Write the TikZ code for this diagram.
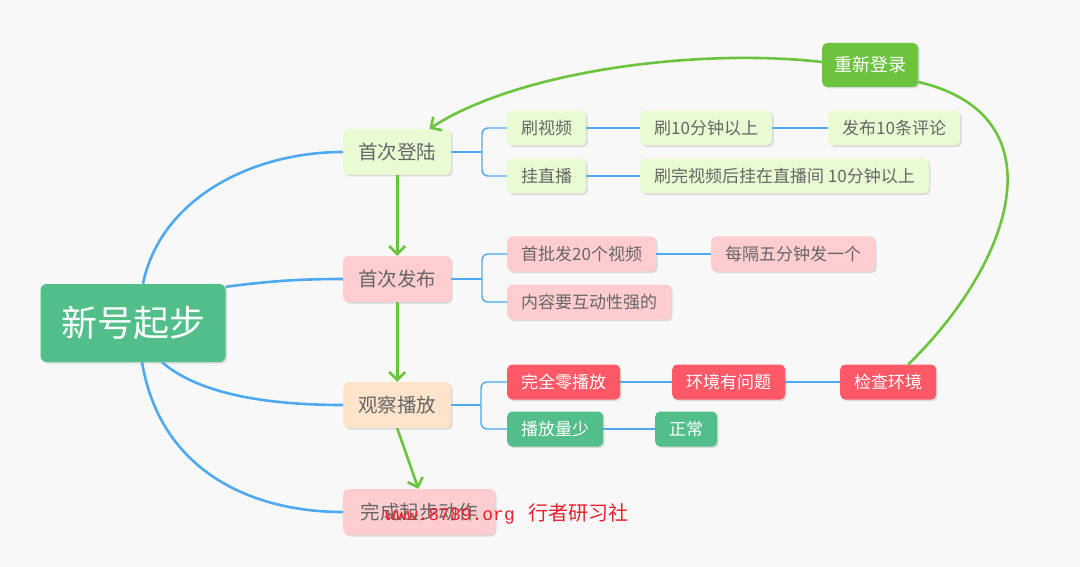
\documentclass[tikz,border=0pt]{standalone}
\usepackage{fontspec}
\setmainfont{Noto Sans CJK SC}
\newfontfamily\wmmono{Liberation Mono}
\usetikzlibrary{arrows.meta,shadows}

\definecolor{bgcol}{HTML}{F8F8F8}
\definecolor{txtgray}{HTML}{666666}
\definecolor{rootgreen}{HTML}{52BE89}
\definecolor{lgreen}{HTML}{E9FBD3}
\definecolor{lpink}{HTML}{FFCDD0}
\definecolor{lpeach}{HTML}{FFE4CC}
\definecolor{hotred}{HTML}{FF5866}
\definecolor{loopgreen}{HTML}{6CC33E}
\definecolor{linkblue}{HTML}{4EA9F0}
\definecolor{wmred}{HTML}{E8202A}

\begin{document}
\begin{tikzpicture}[x=1pt,y=-1pt,
  shad/.style={drop shadow={shadow xshift=1.5pt,shadow yshift=-1.5pt,opacity=0.12,fill=black}},
  root/.style={shad,rounded corners=6pt,fill=rootgreen,text=white,minimum width=185pt,minimum height=78pt,font=\fontsize{36}{36}\selectfont},
  box/.style={shad,rounded corners=5pt,anchor=west,inner xsep=15pt,minimum height=46pt,text=txtgray,font=\fontsize{19.5}{19.5}\selectfont},
  leaf/.style={shad,rounded corners=5pt,anchor=west,inner xsep=14pt,minimum height=35pt,text=txtgray,font=\fontsize{17}{17}\selectfont},
  mainlink/.style={linkblue,line width=2.6pt},
  sublink/.style={linkblue,line width=1.4pt,rounded corners=6pt},
  flow/.style={loopgreen,line width=2.6pt,-{Straight Barb[length=8pt,width=16pt]}}]

\fill[bgcol] (0,0) rectangle (1080,567);
\useasboundingbox (0,0) rectangle (1080,567);

% main branches
\node[root] (qb) at (133,323) {新号起步};
\node[box,fill=lgreen] (dl) at (343,152) {首次登陆};
\node[box,fill=lpink] (fb) at (343,279) {首次发布};
\node[box,fill=lpeach] (gc) at (343,405) {观察播放};
\node[box,fill=lpink,minimum width=152pt] (wc) at (343,512) {完成起步动作};

% sub items
\node[leaf,fill=lgreen] (sp) at (507,128) {刷视频};
\node[leaf,fill=lgreen] (sp10) at (640,128) {刷10分钟以上};
\node[leaf,fill=lgreen] (pl) at (828,128) {发布10条评论};
\node[leaf,fill=lgreen] (zb) at (507,176) {挂直播};
\node[leaf,fill=lgreen] (zb10) at (640,176) {刷完视频后挂在直播间 10分钟以上};
\node[leaf,fill=lpink] (sp20) at (507,254) {首批发20个视频};
\node[leaf,fill=lpink] (jg) at (711,254) {每隔五分钟发一个};
\node[leaf,fill=lpink] (hd) at (507,302) {内容要互动性强的};
\node[leaf,fill=hotred,text=white] (lbf) at (507,382) {完全零播放};
\node[leaf,fill=hotred,text=white] (hj) at (672,382) {环境有问题};
\node[leaf,fill=hotred,text=white] (jc) at (840,382) {检查环境};
\node[leaf,fill=rootgreen,text=white] (ls) at (507,429) {播放量少};
\node[leaf,fill=rootgreen,text=white] (zc) at (655,429) {正常};
\node[leaf,fill=loopgreen,text=white,minimum height=44pt,inner xsep=12pt,font=\fontsize{18}{18}\selectfont] (cx) at (822,65) {重新登录};

% root links
\draw[mainlink] ([xshift=10pt]qb.north) .. controls (160,200) and (250,152) .. (dl.west);
\draw[mainlink] ([yshift=-3pt]qb.north east) .. controls (270,281) and (300,279) .. (fb.west);
\draw[mainlink] ([xshift=29pt]qb.south) .. controls (200,395) and (270,405) .. (gc.west);
\draw[mainlink] ([xshift=9pt]qb.south) .. controls (160,470) and (250,512) .. (wc.west);

% brackets
\draw[sublink] (dl.east) -- (482,152) coordinate (j1);
\draw[sublink] (j1) |- (sp.west);
\draw[sublink] (j1) |- (zb.west);
\draw[sublink] (fb.east) -- (482,279) coordinate (j2);
\draw[sublink] (j2) |- (sp20.west);
\draw[sublink] (j2) |- (hd.west);
\draw[sublink] (gc.east) -- (481,405) coordinate (j3);
\draw[sublink] (j3) |- (lbf.west);
\draw[sublink] (j3) |- (ls.west);

% chains
\draw[sublink] (sp) -- (sp10);
\draw[sublink] (sp10) -- (pl);
\draw[sublink] (zb) -- (zb10);
\draw[sublink] (sp20) -- (jg);
\draw[sublink] (lbf) -- (hj);
\draw[sublink] (hj) -- (jc);
\draw[sublink] (ls) -- (zc);

% flow
\draw[flow] (dl.south) -- (fb.north);
\draw[flow] (fb.south) -- (gc.north);
\draw[flow] (gc.south) -- ([xshift=-77pt]wc.north east);
\draw[loopgreen,line width=2.6pt] ([xshift=-28pt]jc.north east) .. controls (1015,260) and (1060,115) .. ([yshift=-17pt]cx.east);
\draw[flow] ([yshift=3pt]cx.west) .. controls (700,48) and (520,70) .. ([xshift=-22pt]dl.north east);

% watermark
\node[anchor=base west,text=wmred,inner sep=0pt] (wm) at (385,520) {\wmmono\fontsize{18}{18}\selectfont www.8789.org\hspace{14pt}\fontsize{20}{20}\selectfont\rmfamily 行者研习社};

\end{tikzpicture}
\end{document}
